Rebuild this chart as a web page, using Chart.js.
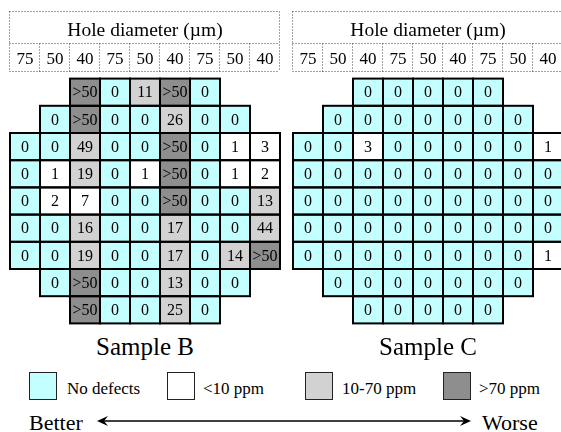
<!DOCTYPE html>
<html><head><meta charset="utf-8">
<script src="https://cdn.jsdelivr.net/npm/chart.js@4/dist/chart.umd.min.js"></script>
<style>
html,body{margin:0;padding:0;background:#fff;overflow:hidden;width:561px;height:432px;}
#wrap{position:relative;width:561px;height:432px;overflow:hidden;font-family:"Liberation Serif","Times New Roman",serif;color:#000;}
.cv{position:absolute;top:0;width:290px;height:330px;}
.t{position:absolute;white-space:nowrap;line-height:1;}
.box{position:absolute;width:26px;height:26px;border:1.5px solid #222;top:372px;}
</style></head>
<body><div id="wrap">
<div class="cv" style="left:0"><canvas id="cB" width="290" height="330"></canvas></div>
<div class="cv" style="left:283px"><canvas id="cC" width="290" height="330"></canvas></div>
<div id="names"></div>
<div id="legend"></div>
<div class="t" id="better" style="left:29px;top:412px;font-size:22px;"></div>
<div class="t" id="worse" style="left:482px;top:412px;font-size:22px;"></div>
<svg style="position:absolute;left:0;top:0" width="561" height="432">
 <line x1="101" y1="421" x2="467" y2="421" stroke="#000" stroke-width="1.6"/>
 <polygon points="97,421 108,416 104,421 108,426" fill="#000"/>
 <polygon points="471,421 460,416 464,421 460,426" fill="#000"/>
</svg>
</div>
<script>
const columnLabels = ['75','50','40','75','50','40','75','50','40'];
const axisTitle = 'Hole diameter (\u00b5m)';
const sampleNames = ['Sample B','Sample C'];
const sampleB = [
  [null,null,'>50',0,11,'>50',0,null,null],
  [null,0,'>50',0,0,26,0,0,null],
  [0,0,49,0,0,'>50',0,1,3],
  [0,1,19,0,1,'>50',0,1,2],
  [0,2,7,0,0,'>50',0,0,13],
  [0,0,16,0,0,17,0,0,44],
  [0,0,19,0,0,17,0,14,'>50'],
  [null,0,'>50',0,0,13,0,0,null],
  [null,null,'>50',0,0,25,0,null,null]
];
const sampleC = [
  [null,null,0,0,0,0,0,null,null],
  [null,0,0,0,0,0,0,0,null],
  [0,0,3,0,0,0,0,0,1],
  [0,0,0,0,0,0,0,0,0],
  [0,0,0,0,0,0,0,0,0],
  [0,0,0,0,0,0,0,0,0],
  [0,0,0,0,0,0,0,0,1],
  [null,0,0,0,0,0,0,0,null],
  [null,null,0,0,0,0,0,null,null]
];
const legendLabels = ['No defects','<10 ppm','10-70 ppm','>70 ppm'];
const legendColors = ['#C4FFFF','#FFFFFF','#D2D2D2','#8E8E8E'];
const directionLabels = ['Better','Worse'];

function colorFor(v){
  if (v === null) return 'rgba(0,0,0,0)';
  if (v === '>50') return legendColors[3];
  if (v === 0) return legendColors[0];
  if (v < 10) return legendColors[1];
  return legendColors[2];
}

const FONT = "'Liberation Serif','Times New Roman',serif";

const gridPlugin = {
  id:'gridPlugin',
  afterDatasetsDraw(chart){
    const ctx = chart.ctx;
    ctx.save();
    ctx.strokeStyle = '#000';
    ctx.lineWidth = 2;
    chart.data.datasets.forEach((ds, di) => {
      const meta = chart.getDatasetMeta(di);
      meta.data.forEach((bar, i) => {
        if (ds.cellText[i] === null) return;
        const p = bar.getProps(['x','y','base','width'], true);
        const l = p.x - p.width/2, r = p.x + p.width/2;
        const t = Math.min(p.y, p.base), b = Math.max(p.y, p.base);
        ctx.strokeRect(l, t, r-l, b-t);
      });
    });
    ctx.fillStyle = '#000';
    ctx.font = '16px ' + FONT;
    ctx.textAlign = 'center';
    ctx.textBaseline = 'middle';
    chart.data.datasets.forEach((ds, di) => {
      const meta = chart.getDatasetMeta(di);
      meta.data.forEach((bar, i) => {
        const v = ds.cellText[i];
        if (v === null) return;
        const p = bar.getProps(['x','y','base'], true);
        ctx.fillText(String(v), p.x, (p.y + p.base)/2 + 1);
      });
    });
    ctx.restore();
  },
  afterDraw(chart){
    const ctx = chart.ctx, a = chart.chartArea, xs = chart.scales.x;
    ctx.save();
    ctx.strokeStyle = '#444';
    ctx.lineWidth = 1;
    ctx.setLineDash([1,2]);
    const L = a.left - 0.5, R = a.right - 0.5;
    [11.5, 43.5, 71.5].forEach(y => {
      ctx.beginPath(); ctx.moveTo(L, y); ctx.lineTo(R, y); ctx.stroke();
    });
    [L, R].forEach(x => { ctx.beginPath(); ctx.moveTo(x, 11.5); ctx.lineTo(x, 71.5); ctx.stroke(); });
    for (let i = 1; i < columnLabels.length; i++) {
      const x = (xs.getPixelForTick(i-1) + xs.getPixelForTick(i))/2 - 0.5;
      ctx.beginPath(); ctx.moveTo(x, 43.5); ctx.lineTo(x, 71.5); ctx.stroke();
    }
    ctx.restore();
  }
};

function makeChart(id, grid){
  const datasets = grid.map((row, r) => ({
    label: 'row ' + (r+1),
    data: row.map(v => v === null ? null : [r, r+1]),
    cellText: row,
    backgroundColor: row.map(colorFor),
    borderWidth: 0,
    borderSkipped: false,
    barPercentage: 1,
    categoryPercentage: 1,
    grouped: false,
    inflateAmount: 0.5,
    clip: false
  }));
  return new Chart(document.getElementById(id), {
    type:'bar',
    data:{labels: columnLabels, datasets},
    options:{
      responsive:false, animation:false,
      layout:{padding:{left:10,right:10,top:0,bottom:6.6}},
      plugins:{legend:{display:false}, tooltip:{enabled:false}},
      scales:{
        x:{position:'top',
           grid:{display:false, drawTicks:false}, border:{display:false},
           ticks:{color:'#000', font:{family:FONT, size:17}, padding:9.1, maxRotation:0, autoSkip:false},
           title:{display:true, text:axisTitle, color:'#000', font:{family:FONT, size:19.5}, padding:{top:19.3,bottom:0}},
           afterFit(s){ s.height = 78.6; }
        },
        y:{display:false, min:0, max:9, reverse:true}
      }
    },
    plugins:[gridPlugin]
  });
}
makeChart('cB', sampleB);
makeChart('cC', sampleC);

const namesEl = document.getElementById('names');
[145, 428].forEach((cx, i) => {
  const d = document.createElement('div');
  d.className = 't';
  d.textContent = sampleNames[i];
  d.style.cssText = 'font-size:25px;top:334px;left:' + cx + 'px;transform:translateX(-50%);';
  namesEl.appendChild(d);
});
const legEl = document.getElementById('legend');
const boxX = [29, 167, 305, 443];
const textX = [67, 203, 342, 479];
legendLabels.forEach((lab, i) => {
  const b = document.createElement('div');
  b.className = 'box';
  b.style.left = boxX[i] + 'px';
  b.style.background = legendColors[i];
  legEl.appendChild(b);
  const t = document.createElement('div');
  t.className = 't';
  t.textContent = lab;
  t.style.cssText = 'font-size:17px;top:380px;left:' + textX[i] + 'px;';
  legEl.appendChild(t);
});
document.getElementById('better').textContent = directionLabels[0];
document.getElementById('worse').textContent = directionLabels[1];
</script>
</body></html>
